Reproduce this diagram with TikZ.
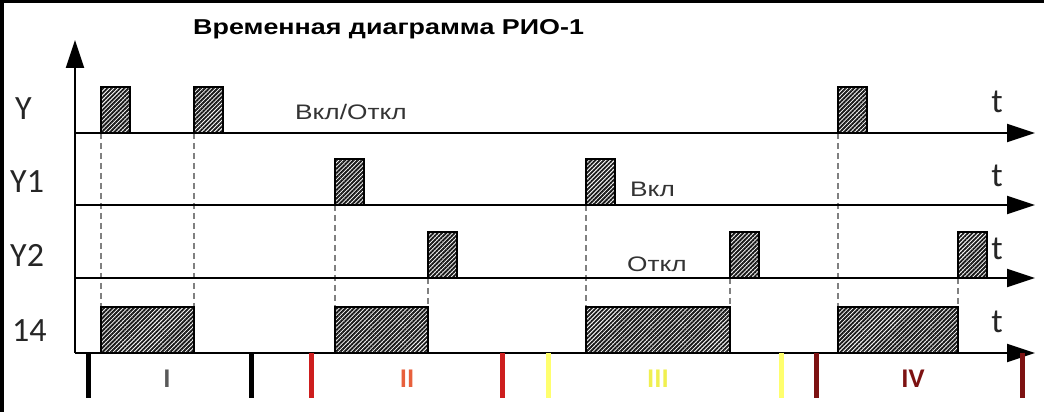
\documentclass[tikz,border=0pt]{standalone}
\usepackage{fontspec}
\setmainfont{Carlito}
\newfontfamily\titlefont{Liberation Sans}[FakeStretch=1.25]
\usetikzlibrary{arrows.meta,patterns.meta,positioning}

\definecolor{barred}{RGB}{205,30,30}
\definecolor{baryellow}{RGB}{255,255,110}
\definecolor{bardark}{RGB}{125,18,18}
\definecolor{numred}{RGB}{232,96,60}
\definecolor{numyellow}{RGB}{240,240,80}

\begin{document}
\begin{tikzpicture}[x=1pt,y=1pt,
  axis/.style={line width=2pt,-{Triangle[length=28pt,width=18pt]}},
  pulse/.style={draw=black,line width=1.5pt,
    pattern={Lines[angle=45,distance=3pt,line width=1.9pt]},pattern color=black!90},
  guide/.style={draw=gray,line width=1.2pt,dash pattern=on 6pt off 4pt},
  stopbar/.style={line width=5pt},
  sig/.style={font=\fontsize{34}{34}\selectfont,anchor=base west,inner sep=0pt,text=black!85},
  tlabel/.style={font=\fontsize{34}{34}\selectfont,anchor=base,inner sep=0pt,text=black!85},
  state/.style={font=\titlefont\fontsize{21}{21}\selectfont,anchor=base west,inner sep=0pt,text=black!80},
  roman/.style={font=\bfseries\fontsize{27}{27}\selectfont,inner sep=0pt}
  ]
  \fill[white] (0,0) rectangle (1044,412);
  \useasboundingbox (0,0) rectangle (1044,412);
  % frame
  \draw[line width=4pt] (2,0) -- (2,410.5);
  \draw[line width=3pt] (0,410.5) -- (1044,410.5);

  \node[anchor=base west,inner sep=0pt,font=\titlefont\bfseries\fontsize{21.5}{21.5}\selectfont]
    (title) at (193,377) {Временная диаграмма РИО-1};

  % guides
  \foreach \x/\y in {101/279,194/279,335/207,428/134,586/207,730/134,838/279,958/134}
    \draw[guide] (\x,\y) -- (\x,105);

  % axes
  \foreach \row/\y in {Y/279,Y1/207,Y2/134,K/59}{
    \coordinate (\row-s) at (75,\y);
    \coordinate (\row-e) at (1035,\y);
    \draw[axis] (\row-s) -- (\row-e);
  }
  \coordinate (top) at (75,372);
  \draw[axis] (K-s) -- (top);

  % pulses
  \foreach \a/\y in {101/279,194/279,838/279,335/207,586/207,428/134,730/134,958/134}
    \draw[pulse] (\a,\y) rectangle ++(29,46);
  \foreach \a/\b in {101/194,335/428,586/730,838/958}
    \draw[pulse] (\a,59) rectangle (\b,105);

  % signal names
  \node[sig] (lY)  at (15,292) {Y};
  \node[sig] (lY1) at (10,219) {Y1};
  \node[sig] (lY2) at (10,145) {Y2};
  \node[sig] (l14) at (12,70)  {14};
  \foreach \y/\n in {299/tY,225/tY1,152/tY2,79/tK}
    \node[tlabel] (\n) at (997,\y) {t};

  \node[state] (onoff) at (295,292) {Вкл/Откл};
  \node[state] (on)    at (630,215) {Вкл};
  \node[state] (off)   at (627,140) {Откл};

  % stages
  \foreach \x/\c in {88/black,251/black,311/barred,502/barred,548/baryellow,781/baryellow,816/bardark,1022/bardark}
    \draw[stopbar,\c] (\x,59) -- (\x,14);
  \node[roman,text=black!65] (s1) at (167,33) {I};
  \node[roman,text=numred]   (s2) at (407,33) {II};
  \node[roman,text=numyellow] (s3) at (658,33) {III};
  \node[roman,text=bardark]  (s4) at (913,33) {IV};
\end{tikzpicture}
\end{document}
